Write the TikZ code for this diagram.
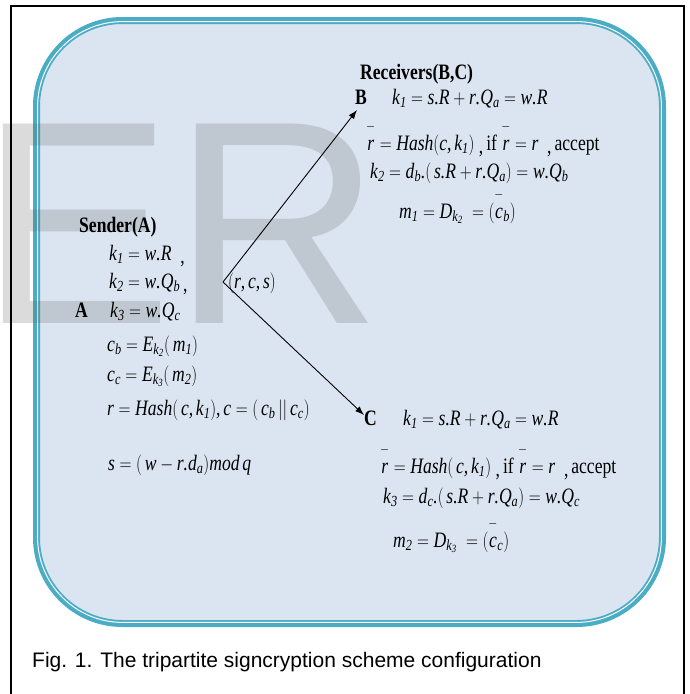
\documentclass[tikz,border=0pt]{standalone}
\usepackage{amsmath}
\usepackage{fontspec}
\usepackage{graphicx}
\setmainfont{Liberation Serif}
\newfontfamily\capfont{Liberation Sans}
\DeclareSymbolFont{letters}{TU}{\rmdefault}{m}{it}
\DeclareMathSymbol{,}{\mathpunct}{letters}{"2C}
\DeclareMathSymbol{.}{\mathord}{letters}{"2E}
\usetikzlibrary{arrows.meta}
\newcommand{\sq}[1]{\scalebox{0.8}[1]{#1}}
\newcommand{\lc}{\raisebox{-3pt}{,}}
\newcommand{\ob}[1]{\overset{\raisebox{5pt}{$\scriptstyle -$}}{#1}}
\definecolor{boxfill}{RGB}{219,229,241}
\definecolor{tealline}{RGB}{75,172,198}
\definecolor{wmgray}{RGB}{93,93,93}
\tikzset{
  eq/.style={anchor=base west, inner sep=0pt, font=\fontsize{22}{26}\selectfont},
  lbl/.style={anchor=base west, inner sep=0pt, font=\fontsize{22}{26}\selectfont\bfseries},
  flow/.style={draw=black, line width=0.9pt, -{Latex[length=9pt,width=6.5pt]}},
  wm/.style={anchor=base west, inner sep=0pt, text=wmgray, text opacity=0.22, font=\capfont\fontsize{290}{290}\selectfont}
}
\begin{document}
\begin{tikzpicture}[x=1pt,y=-1pt]
\useasboundingbox (0,0) rectangle (689,694);
\begin{scope}
\clip (0,0) rectangle (689,694);
% rounded panel
\draw[tealline, line width=7pt, fill=boxfill, rounded corners=86pt] (36.5,20.5) rectangle (662.5,623.5);
\draw[white, line width=1pt, rounded corners=85pt] (37.6,21.6) rectangle (661.4,622.4);
% watermark
\node[wm] (wmark) at (-21,323) {ER};
% outer frame
\draw[black, line width=1.4pt] (11,700) -- (11,6) -- (684,6) -- (684,700);
\end{scope}

% receivers
\node[lbl] (rec) at (360,79) {\sq{Receivers(B,C)}};
\node[lbl] (B) at (355,104) {\sq{B}};
\node[eq] (b1) at (392,104) {\sq{$k_{\mathit{1}} = s.R + r.Q_a = w.R$}};
\node[eq] (b2) at (366,150) {\sq{$\ob{r} = \mathit{Hash}(c,k_{\mathit{1}})$\ \lc\,if $\ob{r} = r$\ \ \lc\,accept}};
\node[eq] (b3) at (370,178) {\sq{$k_{\mathit{2}} = d_b.(\,s.R + r.Q_a) = w.Q_b$}};
\node[eq] (b4) at (399,218) {\sq{$m_{\mathit{1}} = D_{k_{\mathit{2}}}\ = (\ob{c}_b)$}};

% sender
\node[lbl] (snd) at (79,232) {\sq{Sender(A)}};
\node[eq] (a1) at (109,260) {\sq{$k_{\mathit{1}} = w.R$\ \ \lc}};
\node[eq] (a2) at (109,288) {\sq{$k_{\mathit{2}} = w.Q_b$\,\lc}};
\node[eq] (msg) at (228,288) {\sq{$(r,c,s)$}};
\node[lbl] (A) at (75,317) {\sq{A}};
\node[eq] (a3) at (110,317) {\sq{$k_{\mathit{3}} = w.Q_c$}};
\node[eq] (a4) at (107,351) {\sq{$c_b = E_{k_{\mathit{2}}}(\,m_{\mathit{1}})$}};
\node[eq] (a5) at (107,381) {\sq{$c_c = E_{k_{\mathit{3}}}(\,m_{\mathit{2}})$}};
\node[eq] (a6) at (107,415) {\sq{$r = \mathit{Hash}(\,c,k_{\mathit{1}}), c = (\,c_b\,||\,c_c)$}};
\node[eq] (a7) at (108,470) {\sq{$s = (\,w - r.d_a)\mathit{mod}\,q$}};

% receiver C
\node[lbl] (C) at (364,425) {\sq{C}};
\node[eq] (c1) at (403,425) {\sq{$k_{\mathit{1}} = s.R + r.Q_a = w.R$}};
\node[eq] (c2) at (380,473) {\sq{$\ob{r} = \mathit{Hash}(\,c,k_{\mathit{1}})$\ \lc\,if $\ob{r} = r$\ \ \lc\,accept}};
\node[eq] (c3) at (383,503) {\sq{$k_{\mathit{3}} = d_c.(\,s.R + r.Q_a) = w.Q_c$}};
\node[eq] (c4) at (393,547) {\sq{$m_{\mathit{2}} = D_{k_{\mathit{3}}}\ = (\ob{c}_c)$}};

% arrows
\coordinate (v) at (223,282);
\coordinate (tipB) at (357,110);
\coordinate (tipC) at (364,415);
\draw[flow] (v) -- (tipB);
\draw[flow] (v) -- (tipC);

% caption
\node[anchor=base west, inner sep=0pt, font=\capfont\fontsize{21}{24}\selectfont] (cap) at (32,667) {Fig. 1. The tripartite signcryption scheme configuration};
\end{tikzpicture}
\end{document}
